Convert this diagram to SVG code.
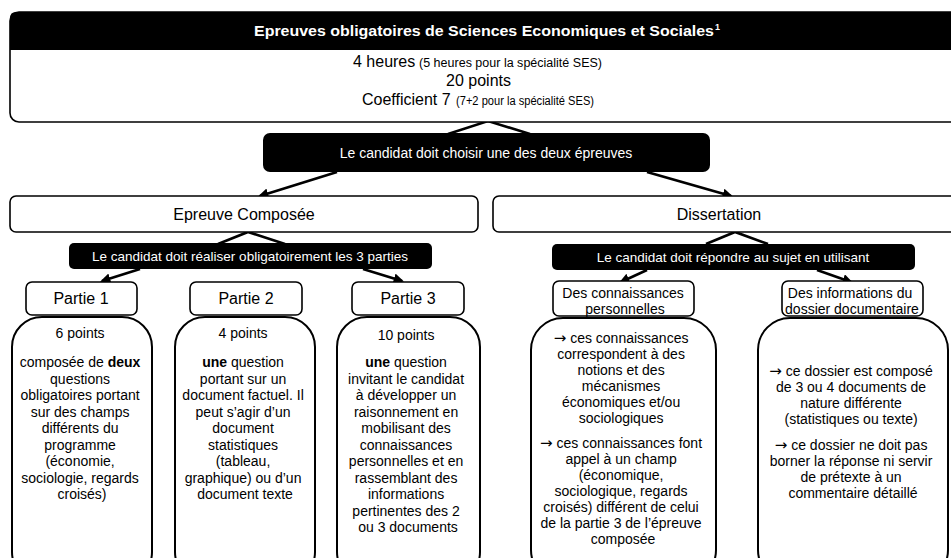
<svg xmlns="http://www.w3.org/2000/svg" width="951" height="558" viewBox="0 0 951 558">
<style>
text{font-family:"Liberation Sans",Arial,sans-serif;fill:#000}
.w{fill:#fff}
.box{fill:#fff;stroke:#000;stroke-width:1.6}
.body{fill:#fff;stroke:#000;stroke-width:2}
.blk{fill:#000}
.ln{stroke:#000;stroke-width:2.6;fill:none}
.ar{stroke:#000;stroke-width:2.6;fill:none;marker-end:url(#ah)}
.h{font-size:16px;text-anchor:middle}
.t{font-size:14px;text-anchor:middle}
.s{font-size:13.5px;text-anchor:middle}
.a{font-family:"DejaVu Sans",sans-serif;font-size:15px}
</style>
<defs>
<marker id="ah" viewBox="0 0 10 10" refX="8" refY="5" markerWidth="4" markerHeight="4" orient="auto" markerUnits="strokeWidth">
<path d="M0,0 L10,5 L0,10 z" fill="#000"/>
</marker>
</defs>
<rect width="951" height="558" fill="#fff"/>

<g id="connectors">
<path class="ln" d="M448,134 L488,121 L530,134"/>
<path class="ar" d="M337,172 L260,196"/>
<path class="ar" d="M647,172 L731,196"/>
<path class="ln" d="M218,244 L248,232 L285,244"/>
<path class="ln" d="M706,244 L735,232 L768,244"/>
<path class="ar" d="M140,269 L102,281"/>
<path class="ar" d="M363,269 L402,281"/>
<path class="ar" d="M647,270 L621,282"/>
<path class="ar" d="M817,270 L851,282"/>
</g>

<g id="header">
<rect class="box" x="10" y="12" width="960" height="110" rx="9"/>
<path class="blk" d="M10,50 L10,18 Q10,12 16,12 L970,12 L970,50 Z"/>
<text x="484" y="36" font-size="15" font-weight="bold" class="w" text-anchor="middle" textLength="460" lengthAdjust="spacingAndGlyphs">Epreuves obligatoires de Sciences Economiques et Sociales</text>
<text x="715" y="30" font-size="9" font-weight="bold" class="w">1</text>
<text x="353" y="67" font-size="16">4 heures</text>
<text x="419" y="67" font-size="12.5" textLength="183" lengthAdjust="spacingAndGlyphs">(5 heures pour la spécialité SES)</text>
<text x="478.5" y="86" text-anchor="middle" font-size="16">20 points</text>
<text x="362" y="105" font-size="16">Coefficient 7</text>
<text x="456" y="105" font-size="12.5" textLength="138" lengthAdjust="spacingAndGlyphs">(7+2 pour la spécialité SES)</text>
</g>

<g id="choix">
<rect class="blk" x="263" y="133" width="447" height="39" rx="7"/>
<text class="t w" x="486" y="158">Le candidat doit choisir une des deux épreuves</text>
</g>

<g id="epreuve-composee">
<rect class="box" x="10" y="196" width="468" height="36" rx="6"/>
<text class="h" x="244" y="220">Epreuve Composée</text>
</g>

<g id="dissertation">
<rect class="box" x="493" y="196" width="470" height="36" rx="6"/>
<text class="h" x="719" y="220">Dissertation</text>
</g>

<g id="realiser">
<rect class="blk" x="69" y="243" width="363" height="26" rx="5"/>
<text class="s w" x="250" y="261">Le candidat doit réaliser obligatoirement les 3 parties</text>
</g>

<g id="repondre">
<rect class="blk" x="552" y="244" width="363" height="26" rx="5"/>
<text class="s w" x="733" y="262">Le candidat doit répondre au sujet en utilisant</text>
</g>

<g id="partie1">
<rect class="box" x="26" y="282" width="111" height="33" rx="6"/>
<text class="h" x="81" y="304">Partie 1</text>
<rect class="body" x="12" y="317" width="140" height="265" rx="30"/>
<text class="t">
<tspan x="82" y="338">6 points</tspan>
<tspan x="82" y="367">composée de <tspan font-weight="bold">deux</tspan></tspan>
<tspan x="82" y="383.5">questions</tspan>
<tspan x="82" y="400">obligatoires portant</tspan>
<tspan x="82" y="416.5">sur des champs</tspan>
<tspan x="82" y="433">différents du</tspan>
<tspan x="82" y="449.5">programme</tspan>
<tspan x="82" y="466">(économie,</tspan>
<tspan x="82" y="482.5">sociologie, regards</tspan>
<tspan x="82" y="499">croisés)</tspan>
</text>
</g>

<g id="partie2">
<rect class="box" x="190" y="282" width="112" height="33" rx="6"/>
<text class="h" x="246" y="304">Partie 2</text>
<rect class="body" x="175" y="317" width="140" height="265" rx="30"/>
<text class="t">
<tspan x="245" y="338">4 points</tspan>
<tspan x="245" y="367"><tspan font-weight="bold">une</tspan> question</tspan>
<tspan x="245" y="383.5">portant sur un</tspan>
<tspan x="245" y="400">document factuel. Il</tspan>
<tspan x="245" y="416.5">peut s’agir d’un</tspan>
<tspan x="245" y="433">document</tspan>
<tspan x="245" y="449.5">statistiques</tspan>
<tspan x="245" y="466">(tableau,</tspan>
<tspan x="245" y="482.5">graphique) ou d’un</tspan>
<tspan x="245" y="499">document texte</tspan>
</text>
</g>

<g id="partie3">
<rect class="box" x="352" y="282" width="112" height="33" rx="6"/>
<text class="h" x="408" y="304">Partie 3</text>
<rect class="body" x="337" y="317" width="143" height="265" rx="30"/>
<text class="t">
<tspan x="408" y="340">10 points</tspan>
<tspan x="408" y="367"><tspan font-weight="bold">une</tspan> question</tspan>
<tspan x="408" y="383.5">invitant le candidat</tspan>
<tspan x="408" y="400">à développer un</tspan>
<tspan x="408" y="416.5">raisonnement en</tspan>
<tspan x="408" y="433">mobilisant des</tspan>
<tspan x="408" y="449.5">connaissances</tspan>
<tspan x="408" y="466">personnelles et en</tspan>
<tspan x="408" y="482.5">rassemblant des</tspan>
<tspan x="408" y="499">informations</tspan>
<tspan x="408" y="515.5">pertinentes des 2</tspan>
<tspan x="408" y="532">ou 3 documents</tspan>
</text>
</g>

<g id="connaissances">
<rect class="box" x="553" y="281" width="141" height="35" rx="6"/>
<text class="t">
<tspan x="625" y="298">Des connaissances</tspan>
<tspan x="625" y="314">personnelles</tspan>
</text>
<rect class="body" x="531" y="318" width="185" height="264" rx="32"/>
<text class="t">
<tspan x="623" y="343"><tspan class="a">→</tspan> ces connaissances</tspan>
<tspan x="623" y="359">correspondent à des</tspan>
<tspan x="623" y="375">notions et des</tspan>
<tspan x="623" y="391">mécanismes</tspan>
<tspan x="623" y="407">économiques et/ou</tspan>
<tspan x="623" y="423">sociologiques</tspan>
<tspan x="623" y="448"><tspan class="a">→</tspan> ces connaissances font</tspan>
<tspan x="623" y="464">appel à un champ</tspan>
<tspan x="623" y="480">(économique,</tspan>
<tspan x="623" y="496">sociologique, regards</tspan>
<tspan x="623" y="512">croisés) différent de celui</tspan>
<tspan x="623" y="528">de la partie 3 de l’épreuve</tspan>
<tspan x="623" y="544">composée</tspan>
</text>
</g>

<g id="informations">
<rect class="box" x="782" y="281" width="141" height="35" rx="6"/>
<text class="t">
<tspan x="852" y="298">Des informations du</tspan>
<tspan x="852" y="314">dossier documentaire</tspan>
</text>
<rect class="body" x="758" y="318" width="190" height="264" rx="32"/>
<text class="t">
<tspan x="853" y="376"><tspan class="a">→</tspan> ce dossier est composé</tspan>
<tspan x="853" y="392">de 3 ou 4 documents de</tspan>
<tspan x="853" y="408">nature différente</tspan>
<tspan x="853" y="424">(statistiques ou texte)</tspan>
<tspan x="853" y="450"><tspan class="a">→</tspan> ce dossier ne doit pas</tspan>
<tspan x="853" y="466">borner la réponse ni servir</tspan>
<tspan x="853" y="482">de prétexte à un</tspan>
<tspan x="853" y="498">commentaire détaillé</tspan>
</text>
</g>
</svg>
